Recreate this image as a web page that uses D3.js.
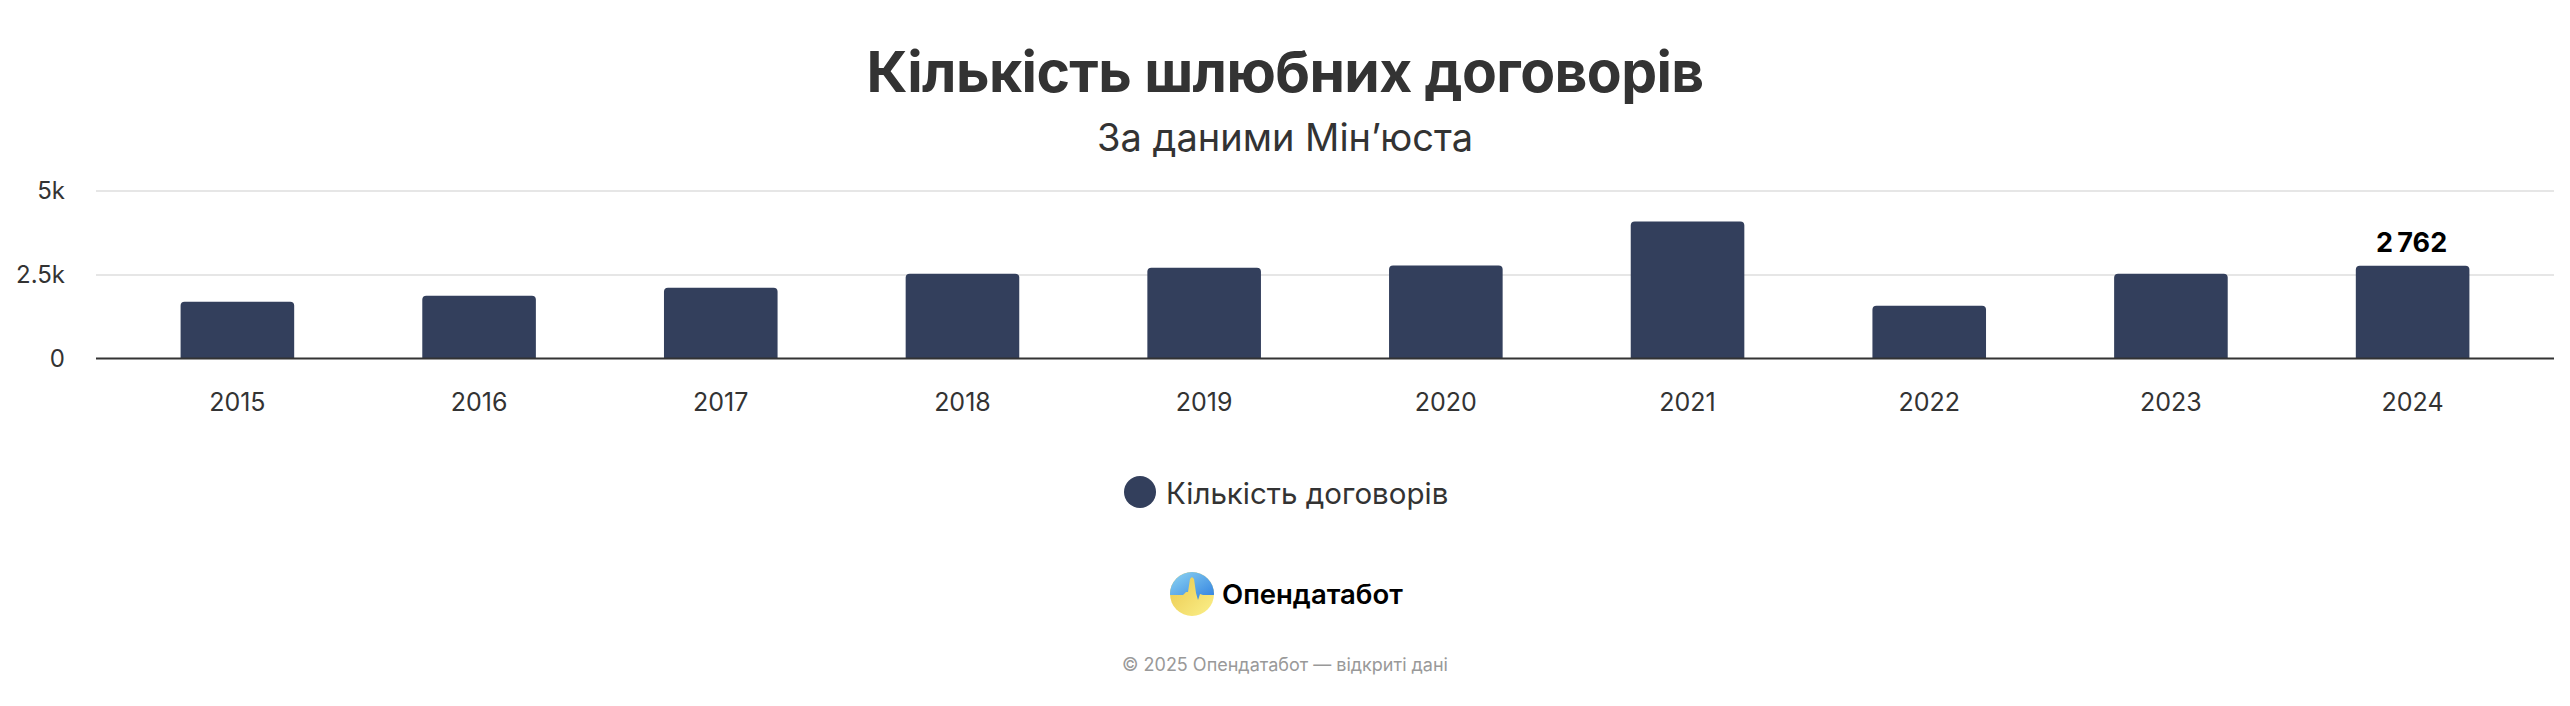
<!DOCTYPE html>
<html>
<head>
<meta charset="utf-8">
<script src="https://cdn.jsdelivr.net/npm/d3@7"></script>
<style>
  html, body { margin: 0; padding: 0; background: #fff; }
  svg text { font-family: Inter, "Noto Sans", sans-serif; }
</style>
</head>
<body>
<svg id="chart" width="2570" height="706"></svg>
<script>
const years = ["2015","2016","2017","2018","2019","2020","2021","2022","2023","2024"];
const contracts = [1686, 1866, 2104, 2522, 2701, 2770, 4075, 1567, 2522, 2762];
const yTicks = [0, 2500, 5000];
const yTickLabels = ["0", "2.5k", "5k"];
const titleText = "Кількість шлюбних договорів";
const subtitleText = "За даними Мін’юста";
const seriesName = "Кількість договорів";
const brandName = "Опендатабот";
const footerText = "© 2025 Опендатабот — відкриті дані";
const labelledIndex = 9;

const svg = d3.select("#chart");
const W = 2570;
const left = 96, right = 2554, y0 = 358.5, yTop = 190.5;
const barColor = "#333f5c";

const x = d3.scaleBand().domain(years).range([left, right]).paddingInner(0.53).paddingOuter(0.35);
const y = d3.scaleLinear().domain([0, 5000]).range([y0, yTop]);

// title
svg.append("text").attr("x", W/2).attr("y", 92).attr("text-anchor", "middle")
  .attr("font-size", 57).attr("font-weight", 700).attr("fill", "#333")
  .attr("letter-spacing", -0.6).text(titleText);
svg.append("text").attr("x", W/2).attr("y", 151).attr("text-anchor", "middle")
  .attr("font-size", 38).attr("fill", "#333").text(subtitleText);

// gridlines
svg.append("g").selectAll("line").data(yTicks.filter(d => d > 0)).join("line")
  .attr("x1", left).attr("x2", right)
  .attr("y1", d => Math.round(y(d))).attr("y2", d => Math.round(y(d)))
  .attr("stroke", "#e6e6e6").attr("stroke-width", 2);

// y axis labels
svg.append("g").selectAll("text").data(yTicks).join("text")
  .attr("x", 65).attr("y", d => y(d) + 8).attr("text-anchor", "end")
  .attr("font-size", 24).attr("fill", "#333")
  .text((d, i) => yTickLabels[i]);

// bars with rounded top corners
const r = 4;
svg.append("g").selectAll("path").data(contracts).join("path")
  .attr("fill", barColor)
  .attr("d", (d, i) => {
    const x0 = x(years[i]), bw = x.bandwidth(), top = y(d);
    return `M${x0},${y0} L${x0},${top + r} Q${x0},${top} ${x0 + r},${top} L${x0 + bw - r},${top} Q${x0 + bw},${top} ${x0 + bw},${top + r} L${x0 + bw},${y0} Z`;
  });

// x axis line
svg.append("line").attr("x1", left).attr("x2", right).attr("y1", y0).attr("y2", y0)
  .attr("stroke", "#333").attr("stroke-width", 2);

// x labels
svg.append("g").selectAll("text").data(years).join("text")
  .attr("x", d => x(d) + x.bandwidth()/2).attr("y", 411).attr("text-anchor", "middle")
  .attr("font-size", 25).attr("fill", "#333").text(d => d);

// data label
svg.append("text")
  .attr("x", x(years[labelledIndex]) + x.bandwidth()/2 - 1)
  .attr("y", y(contracts[labelledIndex]) - 14)
  .attr("text-anchor", "middle").attr("font-size", 27).attr("font-weight", 700).attr("fill", "#000")
  .text(d3.format(",")(contracts[labelledIndex]).replace(",", "\u2009"));

// legend
const lg = svg.append("g");
lg.append("circle").attr("cx", 1140).attr("cy", 492).attr("r", 16).attr("fill", barColor);
lg.append("text").attr("x", 1166).attr("y", 504).attr("font-size", 29.5).attr("fill", "#333").text(seriesName);

// brand logo
const defs = svg.append("defs");
const gb = defs.append("linearGradient").attr("id", "gblue").attr("x1", 0).attr("y1", 0).attr("x2", 1).attr("y2", 1);
gb.append("stop").attr("offset", "0%").attr("stop-color", "#8fd6f2");
gb.append("stop").attr("offset", "100%").attr("stop-color", "#2f7fe0");
const gy = defs.append("linearGradient").attr("id", "gyellow").attr("x1", 0).attr("y1", 0).attr("x2", 1).attr("y2", 1);
gy.append("stop").attr("offset", "0%").attr("stop-color", "#e9c64a");
gy.append("stop").attr("offset", "100%").attr("stop-color", "#fbf08a");
const cx = 1192, cy = 594, R = 22;
defs.append("clipPath").attr("id", "logoclip").append("circle").attr("cx", cx).attr("cy", cy).attr("r", R);
const logo = svg.append("g").attr("clip-path", "url(#logoclip)");
logo.append("rect").attr("x", cx - R).attr("y", cy - R).attr("width", 2*R).attr("height", 2*R).attr("fill", "url(#gyellow)");
const pulse = [[-R,1],[-9,1],[-6,-2],[-4,-2],[-2,-15],[0,-17],[2,-15],[4,-1],[6,6],[8,0],[11,1],[R,1]];
logo.append("path").attr("fill", "url(#gblue)")
  .attr("d", "M" + (cx - R) + "," + (cy - R) + " L" + (cx + R) + "," + (cy - R) + " " +
    pulse.slice().reverse().map(p => "L" + (cx + p[0]) + "," + (cy + p[1])).join(" ") + " Z");
svg.append("text").attr("x", 1222).attr("y", 604).attr("font-size", 27.5).attr("font-weight", 600)
  .attr("fill", "#000").text(brandName);

// footer
svg.append("text").attr("x", W/2).attr("y", 671).attr("text-anchor", "middle")
  .attr("font-size", 18).attr("fill", "#999").text(footerText);
</script>
</body>
</html>
